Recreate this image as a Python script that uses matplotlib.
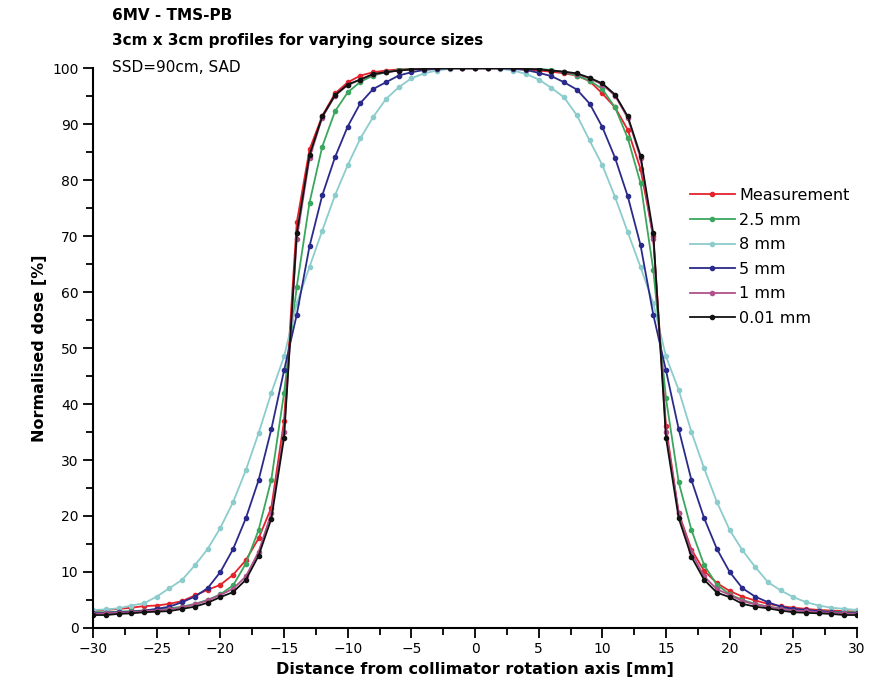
import matplotlib
matplotlib.use("Agg")
import matplotlib.pyplot as plt
from matplotlib.ticker import MultipleLocator

# distance from collimator rotation axis [mm]
dist = list(range(-30, 31))

measurement = [3.0, 3.2, 3.4, 3.6, 3.9, 4.0, 4.3, 4.8, 5.8, 6.8, 7.7, 9.5, 12.1, 16.0, 21.5, 37.0,
               72.5, 85.5, 91.5, 95.5, 97.5, 98.7, 99.3, 99.6, 99.8, 99.9, 100, 100, 100, 100, 100,
               100, 100, 100, 99.8, 99.6, 99.4, 99.1, 98.7, 97.7, 95.5, 93.0, 89.0, 82.0, 70.0,
               36.0, 20.5, 14.0, 10.2, 8.0, 6.6, 5.6, 4.9, 4.3, 3.9, 3.6, 3.4, 3.2, 3.1, 3.0, 2.9]
src_2_5 = [2.8, 2.8, 2.9, 3.0, 3.1, 3.3, 3.5, 3.8, 4.3, 5.0, 6.0, 7.6, 11.5, 17.5, 26.5, 42.0,
           61.0, 76.0, 86.0, 92.3, 95.7, 97.6, 98.7, 99.3, 99.7, 99.9, 100, 100, 100, 100, 100,
           100, 100, 100, 100, 99.9, 99.7, 99.3, 98.7, 97.8, 96.3, 93.0, 87.5, 79.5, 64.0, 41.0,
           26.0, 17.5, 11.2, 7.7, 6.0, 5.0, 4.3, 3.8, 3.5, 3.3, 3.1, 3.0, 2.9, 2.8, 2.8]
src_8 = [3.2, 3.3, 3.5, 4.0, 4.4, 5.6, 7.1, 8.6, 11.2, 14.1, 17.9, 22.5, 28.2, 34.8, 42.0, 48.5,
         58.0, 64.5, 71.0, 77.3, 82.7, 87.5, 91.3, 94.5, 96.6, 98.2, 99.1, 99.6, 99.9, 100, 100,
         100, 99.9, 99.6, 99.0, 98.0, 96.5, 94.8, 91.6, 87.1, 82.7, 77.0, 70.7, 64.5, 58.0, 48.5,
         42.5, 35.0, 28.5, 22.5, 17.5, 13.9, 10.9, 8.2, 6.7, 5.5, 4.6, 4.0, 3.6, 3.4, 3.2]
src_5 = [2.6, 2.7, 2.8, 2.9, 3.1, 3.4, 3.8, 4.6, 5.6, 7.1, 10.0, 14.1, 19.6, 26.4, 35.5, 46.0,
         56.0, 68.2, 77.3, 84.1, 89.6, 93.8, 96.3, 97.5, 98.7, 99.3, 99.7, 99.9, 100, 100, 100,
         100, 100, 99.9, 99.7, 99.2, 98.6, 97.5, 96.2, 93.7, 89.5, 84.0, 77.1, 68.4, 56.0, 46.0,
         35.5, 26.4, 19.6, 14.1, 10.0, 7.1, 5.6, 4.6, 3.8, 3.4, 3.2, 3.0, 2.8, 2.7, 2.6]
src_1 = [2.5, 2.6, 2.7, 2.8, 3.0, 3.1, 3.3, 3.7, 4.2, 4.9, 5.9, 7.0, 9.2, 13.6, 20.5, 35.0,
         69.5, 84.0, 91.2, 95.1, 97.0, 98.0, 98.9, 99.3, 99.6, 99.8, 99.9, 100, 100, 100, 100,
         100, 100, 100, 99.9, 99.8, 99.6, 99.3, 99.0, 98.2, 97.1, 95.1, 91.1, 84.0, 69.5, 35.0,
         20.5, 13.5, 9.2, 6.9, 5.9, 4.8, 4.2, 3.8, 3.4, 3.1, 3.0, 2.8, 2.7, 2.6, 2.5]
src_001 = [2.3, 2.3, 2.5, 2.6, 2.8, 2.9, 3.0, 3.4, 3.8, 4.5, 5.5, 6.4, 8.6, 12.9, 19.5, 34.0,
           70.5, 84.5, 91.4, 95.2, 97.1, 98.0, 99.0, 99.3, 99.6, 99.8, 99.9, 100, 100, 100, 100,
           100, 100, 100, 99.9, 99.8, 99.6, 99.4, 99.1, 98.3, 97.3, 95.3, 91.4, 84.4, 70.5, 34.0,
           19.6, 12.7, 8.6, 6.3, 5.5, 4.3, 3.8, 3.5, 3.1, 2.8, 2.7, 2.6, 2.5, 2.3, 2.3]

labels = ["Measurement", "2.5 mm", "8 mm", "5 mm", "1 mm", "0.01 mm"]
series = [measurement, src_2_5, src_8, src_5, src_1, src_001]
colors = ["#e4232c", "#3aa65e", "#8ccccc", "#2a2a8a", "#b0508c", "#111111"]

fig = plt.figure(figsize=(8.7, 6.9), dpi=100)
ax = fig.add_axes([0.107, 0.09, 0.878, 0.811])

for vals, lab, col in zip(series, labels, colors):
    ax.plot(dist, vals, color=col, lw=1.3, marker="o", ms=3, label=lab)

ax.set_xlim(-30, 30)
ax.set_ylim(0, 100)
ax.xaxis.set_major_locator(MultipleLocator(5))
ax.xaxis.set_minor_locator(MultipleLocator(2.5))
ax.yaxis.set_major_locator(MultipleLocator(10))
ax.yaxis.set_minor_locator(MultipleLocator(5))
ax.tick_params(which="major", direction="out", length=7, width=1.3, labelsize=10)
ax.tick_params(which="minor", direction="out", length=5, width=1.3)
for s in ["top", "right"]:
    ax.spines[s].set_visible(False)
for s in ["left", "bottom"]:
    ax.spines[s].set_linewidth(1.5)

ax.set_xlabel("Distance from collimator rotation axis [mm]", fontsize=11.5, fontweight="bold")
ax.set_ylabel("Normalised dose [%]", fontsize=11.5, fontweight="bold")

fig.text(112 / 870, 1 - 16 / 690, "6MV - TMS-PB", fontsize=11, fontweight="bold", va="center")
fig.text(112 / 870, 1 - 40 / 690, "3cm x 3cm profiles for varying source sizes",
         fontsize=11, fontweight="bold", va="center")
fig.text(112 / 870, 1 - 68 / 690, "SSD=90cm, SAD", fontsize=11, va="center")

ax.legend(loc="upper left", bbox_to_anchor=(682 / 870, 1 - 180 / 690),
          bbox_transform=fig.transFigure, frameon=False, fontsize=11.5,
          handlelength=2.8, labelspacing=0.6, handletextpad=0.3, borderpad=0)

fig.savefig("out.png", dpi=100, facecolor="white")
